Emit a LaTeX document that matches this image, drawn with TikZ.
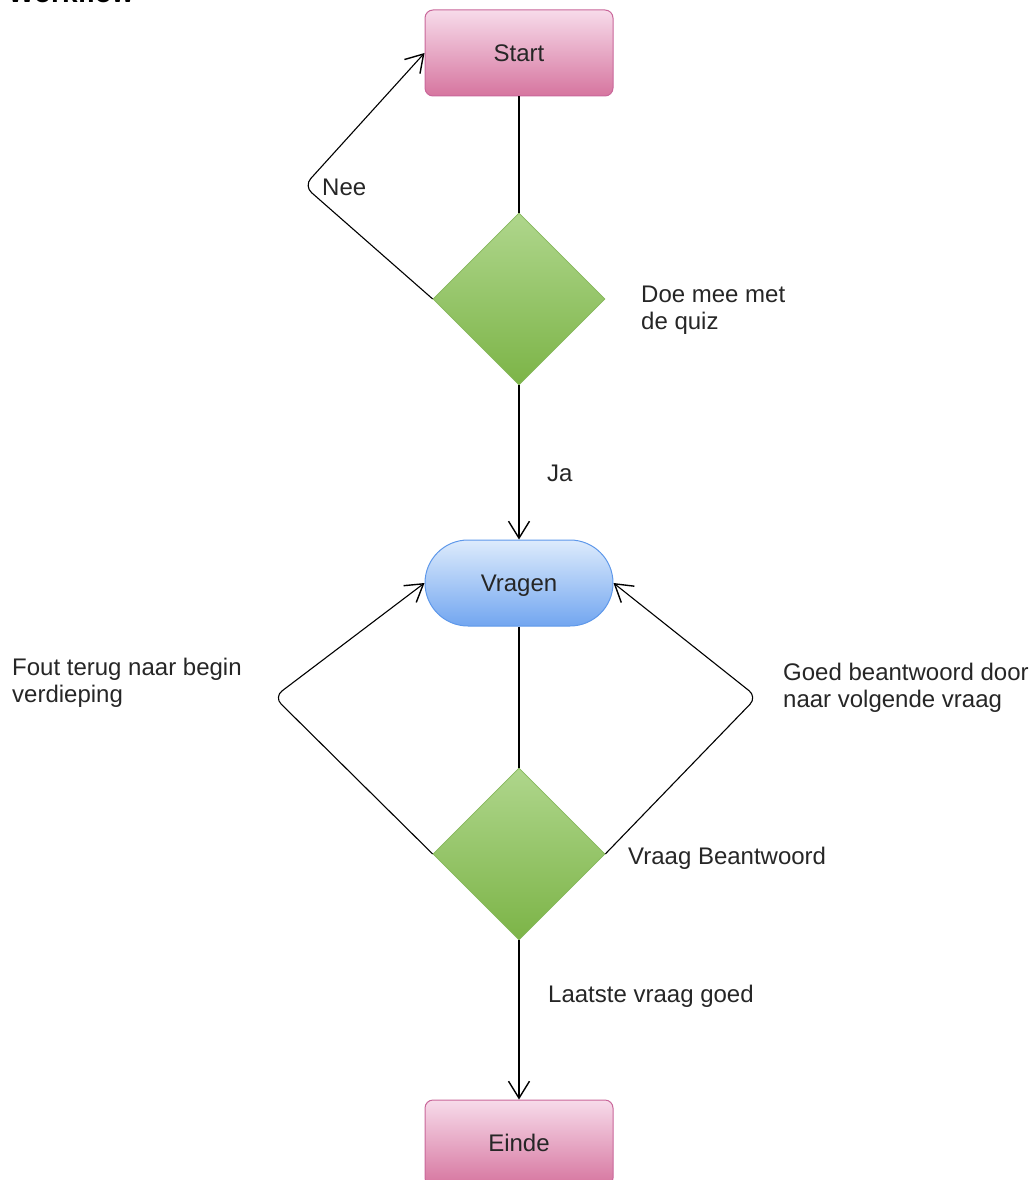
\documentclass[tikz,border=0pt]{standalone}
\usepackage{fontspec}
\setmainfont{Liberation Sans}
\usetikzlibrary{shapes.geometric,arrows.meta}

\definecolor{pinkTop}{HTML}{F7DBEA}
\definecolor{pinkBot}{HTML}{D6759F}
\definecolor{pinkLine}{HTML}{C9679A}
\definecolor{greenTop}{HTML}{AFD68C}
\definecolor{greenBot}{HTML}{7CB447}
\definecolor{greenLine}{HTML}{86B85C}
\definecolor{blueTop}{HTML}{DDEBFC}
\definecolor{blueBot}{HTML}{72A6F0}
\definecolor{blueLine}{HTML}{5E98EA}
\definecolor{ink}{HTML}{262626}

\tikzset{
  every node/.style={font=\fontsize{24}{27}\selectfont, text=ink},
  terminal/.style={draw=pinkLine, line width=1pt, rectangle, rounded corners=8pt,
    minimum width=188pt, minimum height=86pt, inner sep=0pt,
    shading=axis, top color=pinkTop, bottom color=pinkBot},
  process/.style={draw=blueLine, line width=1pt, rectangle, rounded corners=43pt,
    minimum width=188pt, minimum height=86pt, inner sep=0pt, text depth=0pt,
    shading=axis, top color=blueTop, bottom color=blueBot},
  decision/.style={draw=greenLine, line width=0.6pt, diamond, minimum width=172pt,
    minimum height=172pt, inner sep=0pt,
    shading=axis, top color=greenTop, bottom color=greenBot},
  % base west of a two-line label sits on the baseline of its last line
  label/.style={anchor=base west, inner sep=0pt, align=left},
  link/.style={draw=black, line width=1.4pt},
  flow/.style={link, -{Straight Barb[length=17pt,width=21pt,line width=1.4pt]}},
  loop/.style={flow, line width=1.1pt, rounded corners=10pt}
}

\begin{document}
\begin{tikzpicture}[x=1pt,y=-1pt]
\useasboundingbox (0,0) rectangle (1035,1180);

% heading at the top edge
\node[anchor=base west, inner sep=0pt, font=\fontsize{28}{30}\selectfont\bfseries, text=black]
  (title) at (8,3) {Workflow};

% shapes
\node[terminal] (start)  at (519,53)   {Start};
\node[decision] (join)   at (519,299)  {};
\node[process]  (vragen) at (519,583)  {Vragen};
\node[decision] (answer) at (519,854)  {};
\node[terminal] (einde)  at (519,1143) {Einde};

% bend points of the return loops
\coordinate (neeBend)  at (304,186);
\coordinate (foutBend) at (274,697);
\coordinate (goedBend) at (757,697);

% connectors
\draw[link] (start.south) -- (join.north);
\draw[flow] (join.south) -- (vragen.north);
\draw[loop] (join.west) -- (neeBend) -- (start.west);
\draw[link] (vragen.south) -- (answer.north);
\draw[loop] (answer.west) -- (foutBend) -- (vragen.west);
\draw[loop] (answer.east) -- (goedBend) -- (vragen.east);
\draw[flow] (answer.south) -- (einde.north);

% labels
\node[label] (lNee)    at (322,195)  {Nee};
\node[label] (lQuiz)   at (641,329)  {Doe mee met\\de quiz};
\node[label] (lJa)     at (547,481)  {Ja};
\node[label] (lFout)   at (12,702)   {Fout terug naar begin\\verdieping};
\node[label] (lGoed)   at (783,707)  {Goed beantwoord door\\naar volgende vraag};
\node[label] (lVraag)  at (628,864)  {Vraag Beantwoord};
\node[label] (lLaatst) at (548,1002) {Laatste vraag goed};
\end{tikzpicture}
\end{document}
